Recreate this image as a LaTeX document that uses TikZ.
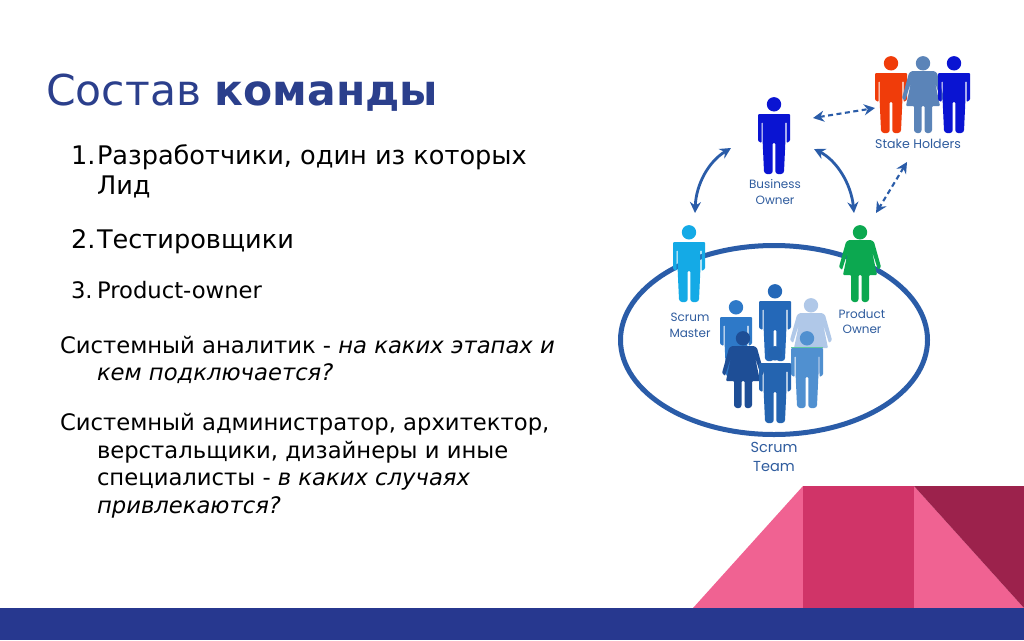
\documentclass[tikz,border=0pt]{standalone}
\usepackage{fontspec}
\setmainfont{DejaVu Sans}
\newfontfamily\lblfont{Poppins}
\usetikzlibrary{arrows.meta,shapes.geometric}
\definecolor{titleblue}{HTML}{2B3F8C}
\definecolor{barblue}{HTML}{27388F}
\definecolor{arrowblue}{HTML}{2A5CA8}
\definecolor{lblblue}{HTML}{2F5C9E}
\definecolor{pinkA}{HTML}{F06292}
\definecolor{pinkB}{HTML}{D03468}
\definecolor{pinkC}{HTML}{9C224C}
\definecolor{pBusiness}{HTML}{0A14D2}
\definecolor{pRed}{HTML}{F03C0A}
\definecolor{pSteel}{HTML}{5B84B8}
\definecolor{pSky}{HTML}{14AAE6}
\definecolor{pGreen}{HTML}{0CA850}
\definecolor{gOne}{HTML}{2E79C8}
\definecolor{gTwo}{HTML}{2468B8}
\definecolor{gPale}{HTML}{B0C8E8}
\definecolor{gLight}{HTML}{5090D0}
\definecolor{gDark}{HTML}{1E4E96}
\definecolor{gFront}{HTML}{2464B0}
\definecolor{gSeam}{HTML}{60C8A0}
\tikzset{
  x=1pt,y=-1pt,
  pics/man/.style={code={
    \fill[#1] (0,7.3) circle[radius=7.2];
    \fill[#1,rounded corners=1pt] (-16,17)--(16,17)--(16,44)--(12.5,46)--(12.5,25)--(11.3,25)--(11.3,46)--(10,75)--(8,77)--(3,77)--(1.3,75)--(1.3,46)--(-1.3,46)--(-1.3,75)--(-3,77)--(-8,77)--(-10,75)--(-11.3,46)--(-11.3,25)--(-12.5,25)--(-12.5,46)--(-16,44)--cycle;
  }},
  pics/woman/.style={code={
    \fill[#1] (0,7.3) circle[radius=7.2];
    \fill[#1,rounded corners=1pt] (-11,15)--(11,15)--(14,17)--(21,42)--(18,45)--(12,26)--(17,50)--(9,50)--(9,75)--(7,77)--(3,77)--(1.5,75)--(1.5,50)--(-1.5,50)--(-1.5,75)--(-3,77)--(-7,77)--(-9,75)--(-9,50)--(-17,50)--(-12,26)--(-18,45)--(-21,42)--(-14,17)--cycle;
  }},
  txt/.style={anchor=base west,inner sep=0pt,outer sep=0pt,font=\fontsize{22.7}{27}\selectfont,text=black},
  txtbig/.style={txt,font=\fontsize{25.6}{30}\selectfont},
  lbl/.style={align=center,inner sep=0pt,text=lblblue,font=\lblfont\fontsize{12}{15.5}\selectfont},
  lblwide/.style={lbl,font=\lblfont\fontsize{12.6}{15.5}\selectfont},
  lblbig/.style={lbl,font=\lblfont\fontsize{14.5}{19.5}\selectfont},
  curved/.style={draw=arrowblue,line width=2.8pt,{Stealth[length=11pt,width=11pt]}-{Stealth[length=11pt,width=11pt]}},
  dashedlink/.style={draw=arrowblue,line width=2.1pt,dash pattern=on 5pt off 3.5pt,{Stealth[length=11pt,width=11pt]}-{Stealth[length=11pt,width=11pt]}}
}
\begin{document}
\begin{tikzpicture}
\useasboundingbox (0,0) rectangle (1024,640);
\fill[white] (0,0) rectangle (1024,640);
% bottom decoration
\fill[pinkA] (693,608)--(803,486)--(803,608)--cycle;
\fill[pinkB] (803,486) rectangle (914,608);
\fill[pinkA] (914,486)--(1024,608)--(914,608)--cycle;
\fill[pinkC] (914,486)--(1024,486)--(1024,608)--cycle;
\fill[barblue] (0,608) rectangle (1024,640);
% title
\node[anchor=base west,inner sep=0pt,text=titleblue,font=\fontsize{42.5}{50}\selectfont] (title) at (46,105) {Состав \textbf{команды}};
% text
\node[txtbig] (n1) at (71,164.5) {1.};
\node[txtbig] (t1) at (97,164.5) {Разработчики, один из которых};
\node[txtbig] (t1b) at (97,194.5) {Лид};
\node[txtbig] (n2) at (71,248) {2.};
\node[txtbig] (t2) at (97,248) {Тестировщики};
\node[txt] (n3) at (71,298.7) {3.};
\node[txt] (t3) at (97,298.7) {Product-owner};
\node[txt] (s1) at (60,353) {Системный аналитик - \textit{на каких этапах и}};
\node[txt] (s1b) at (97,380) {\textit{кем подключается?}};
\node[txt] (s2) at (60,430) {Системный администратор, архитектор,};
\node[txt] (s2b) at (97,458) {верстальщики, дизайнеры и иные};
\node[txt] (s2c) at (97,485) {специалисты - \textit{в каких случаях}};
\node[txt] (s2d) at (97,513) {\textit{привлекаются?}};
% ellipse
\node[draw=arrowblue,line width=5pt,ellipse,inner sep=0pt,outer sep=0pt,minimum width=307pt,minimum height=189pt] (team) at (774,340) {};
% people
\pic at (774,97) {man=pBusiness};
\pic at (891,56) {man=pRed};
\pic at (923,56) {woman=pSteel};
\pic at (954,56) {man=pBusiness};
\pic at (689,225) {man=pSky};
\pic at (860,225) {woman=pGreen};
\pic at (736,300) {man=gOne};
\pic at (775,284) {man=gTwo};
\pic at (811,298) {woman=gPale};
\pic at (807,331) {man=gLight};
\draw[gSeam,line width=1pt] (791,347.5) -- (823,347.5);
\pic at (743,331) {woman=gDark};
\pic at (775,346) {man=gFront};
% labels
\node[lbl] (lbBO) at (775,192) {Business\\Owner};
\node[lblwide] (lbSH) at (918,144) {Stake Holders};
\node[lbl] (lbSM) at (690,325.5) {Scrum\\Master};
\node[lbl] (lbPO) at (862,321.5) {Product\\Owner};
\node[lblbig] (lbST) at (774,457) {Scrum\\Team};
% connector ends
\coordinate (mL) at (695,213);
\coordinate (boL) at (731,148);
\coordinate (boR) at (814,149);
\coordinate (mR) at (854,213);
\coordinate (boT) at (813,118);
\coordinate (shL) at (875,108);
\coordinate (shB) at (907,162);
\coordinate (poT) at (876,213);
\draw[curved] (mL) .. controls (696,185) and (708,162) .. (boL);
\draw[curved] (boR) .. controls (836,160) and (851,183) .. (mR);
\draw[dashedlink] (boT) -- (shL);
\draw[dashedlink] (shB) -- (poT);
\end{tikzpicture}
\end{document}
